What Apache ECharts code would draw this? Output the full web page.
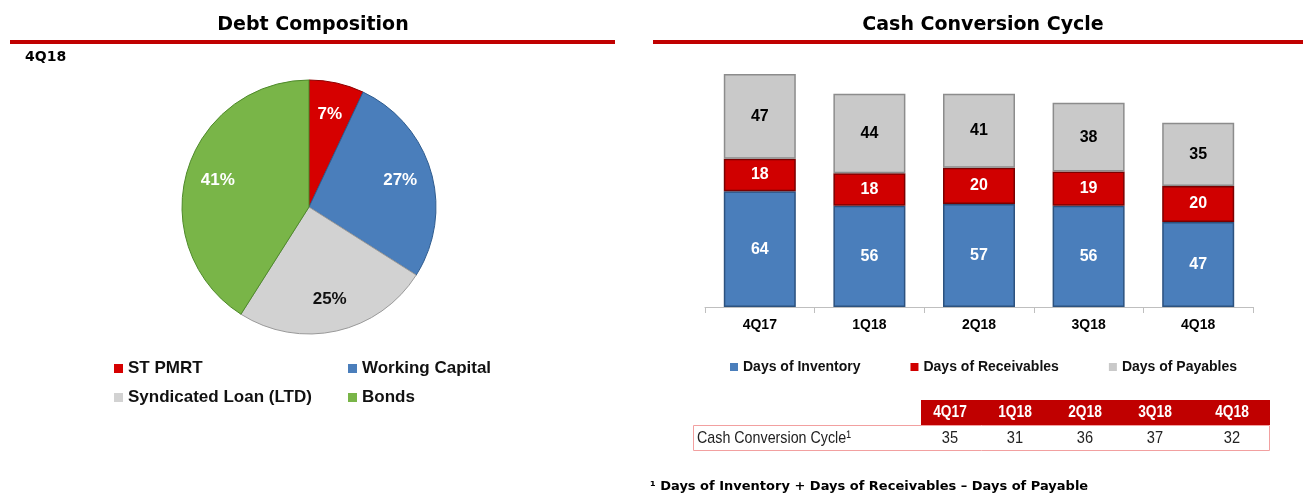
<!DOCTYPE html>
<html>
<head>
<meta charset="utf-8">
<script src="https://cdn.jsdelivr.net/npm/echarts@6/dist/echarts.min.js"></script>
<style>
html,body{margin:0;padding:0;background:#fff;}
#chart{width:1303px;height:493px;}
</style>
</head>
<body>
<div id="chart"></div>
<script>
// ---- data ----
const debtNames = ['ST PMRT', 'Working Capital', 'Syndicated Loan (LTD)', 'Bonds'];
const debtShares = [7, 27, 25, 41];
const categories = ['4Q17', '1Q18', '2Q18', '3Q18', '4Q18'];
const daysInventory = [64, 56, 57, 56, 47];
const daysReceivables = [18, 18, 20, 19, 20];
const daysPayables = [47, 44, 41, 38, 35];
const cccValues = [35, 31, 36, 37, 32];
const leftTitle = 'Debt Composition';
const rightTitle = 'Cash Conversion Cycle';
const periodLabel = '4Q18';
const tableRowLabel = 'Cash Conversion Cycle\u00B9';
const footnote = '\u00B9 Days of Inventory + Days of Receivables \u2013 Days of Payable';

// ---- styles ----
const pieColors = ['#D60000', '#4A7EBB', '#D2D2D2', '#79B548'];
const pieBorders = ['#8E0000', '#2F5C8F', '#9A9A9A', '#4E8A2A'];
const pieLabelColors = ['#fff', '#fff', '#111', '#fff'];
const barColors = { inv: '#4A7EBB', rec: '#D00000', pay: '#C9C9C9' };
const barBorders = { inv: '#2C527F', rec: '#7A0000', pay: '#8C8C8C' };
const colCenters = [950, 1015, 1085, 1155, 1232];
const pieLegendPos = [[114, 360], [348, 360], [114, 389], [348, 389]];
const narrowFont = '"Liberation Sans", Arial, sans-serif';

const chart = echarts.init(document.getElementById('chart'), null, { renderer: 'canvas' });

const pieData = debtNames.map((n, i) => ({
  name: n, value: debtShares[i],
  itemStyle: { color: pieColors[i], borderColor: pieBorders[i], borderWidth: 1 }
}));
const pieLabelData = debtNames.map((n, i) => ({
  name: n, value: debtShares[i],
  label: { color: pieLabelColors[i] }
}));

const barLabel = (color) => ({
  show: true, position: 'inside', color: color,
  fontFamily: 'Liberation Sans, Arial, sans-serif', fontWeight: 'bold', fontSize: 16
});

const graphics = [
  { type: 'text', x: 313, y: 25, style: { text: leftTitle, fill: '#000', font: 'bold 19px "DejaVu Sans", sans-serif', textAlign: 'center', textVerticalAlign: 'middle' } },
  { type: 'rect', shape: { x: 10, y: 40, width: 605, height: 4 }, style: { fill: '#C00000' } },
  { type: 'text', x: 25, y: 57, style: { text: periodLabel, fill: '#000', font: 'bold 14px "DejaVu Sans", sans-serif', textAlign: 'left', textVerticalAlign: 'middle' } },
  { type: 'text', x: 983, y: 25, style: { text: rightTitle, fill: '#000', font: 'bold 19px "DejaVu Sans", sans-serif', textAlign: 'center', textVerticalAlign: 'middle' } },
  { type: 'rect', shape: { x: 653, y: 40, width: 650, height: 4 }, style: { fill: '#C00000' } },
  // table
  { type: 'rect', shape: { x: 921, y: 400, width: 349, height: 25 }, style: { fill: '#C00000' } },
  { type: 'rect', shape: { x: 693.5, y: 425.5, width: 576, height: 25 }, style: { fill: '#fff', stroke: '#F2A0A0', lineWidth: 1 } },
  { type: 'text', x: 697, y: 438, scaleX: 0.84, style: { text: tableRowLabel, fill: '#222', font: '17px ' + narrowFont, textAlign: 'left', textVerticalAlign: 'middle' } },
  { type: 'text', x: 650, y: 487, style: { text: footnote, fill: '#000', font: 'bold 13px "DejaVu Sans", sans-serif', textAlign: 'left', textVerticalAlign: 'middle' } }
];
categories.forEach((c, i) => {
  graphics.push({ type: 'text', x: colCenters[i], y: 413, scaleX: 0.86, style: { text: c, fill: '#fff', font: 'bold 16px ' + narrowFont, textAlign: 'center', textVerticalAlign: 'middle' } });
  graphics.push({ type: 'text', x: colCenters[i], y: 438, scaleX: 0.86, style: { text: String(cccValues[i]), fill: '#222', font: '17px ' + narrowFont, textAlign: 'center', textVerticalAlign: 'middle' } });
});

const pieLegends = debtNames.map((n, i) => ({
  data: [n], left: pieLegendPos[i][0], top: pieLegendPos[i][1], padding: 0,
  itemWidth: 9, itemHeight: 9, itemGap: 5, icon: 'rect',
  itemStyle: { borderWidth: 0 },
  textStyle: { fontFamily: 'Liberation Sans, Arial, sans-serif', fontWeight: 'bold', fontSize: 17, color: '#111', padding: [0, 0, 0, 0] },
  selectedMode: false
}));

const option = {
  animation: false,
  backgroundColor: '#fff',
  graphic: { elements: graphics },
  legend: pieLegends.concat([
    {
      data: ['Days of Inventory', 'Days of Receivables', 'Days of Payables'], left: 730, top: 360, padding: 0,
      itemWidth: 8, itemHeight: 8, itemGap: 50, icon: 'rect',
      itemStyle: { borderWidth: 0 },
      textStyle: { fontFamily: 'Liberation Sans, Arial, sans-serif', fontWeight: 'bold', fontSize: 14, color: '#111' },
      selectedMode: false
    }
  ]),
  grid: { left: 705, width: 548, top: 54, height: 253, containLabel: false },
  xAxis: {
    type: 'category', data: categories,
    axisLine: { lineStyle: { color: '#BFBFBF', width: 1 } },
    axisTick: { show: true, length: 6, lineStyle: { color: '#BFBFBF' } },
    axisLabel: { color: '#000', fontFamily: 'Liberation Sans, Arial, sans-serif', fontWeight: 'bold', fontSize: 14, margin: 11 }
  },
  yAxis: { type: 'value', min: 0, max: 140, show: false, splitLine: { show: false } },
  series: [
    {
      type: 'pie', name: 'Debt', center: [309, 207], radius: 127, startAngle: 90, clockwise: true,
      label: { show: false }, labelLine: { show: false }, silent: true,
      data: pieData
    },
    {
      type: 'pie', name: 'DebtLabels', center: [309, 207], radius: 184, startAngle: 90, clockwise: true,
      itemStyle: { color: 'rgba(0,0,0,0)', borderWidth: 0 }, silent: true, z: 3,
      label: { show: true, position: 'inside', formatter: '{c}%', fontFamily: 'Liberation Sans, Arial, sans-serif', fontWeight: 'bold', fontSize: 17 },
      labelLine: { show: false },
      legendHoverLink: false,
      data: pieLabelData
    },
    {
      type: 'bar', name: 'Days of Inventory', stack: 'ccc', barWidth: 72, data: daysInventory,
      itemStyle: { color: barColors.inv, borderColor: barBorders.inv, borderWidth: 1.5 },
      label: barLabel('#fff')
    },
    {
      type: 'bar', name: 'Days of Receivables', stack: 'ccc', barWidth: 72, data: daysReceivables,
      itemStyle: { color: barColors.rec, borderColor: barBorders.rec, borderWidth: 1.5 },
      label: barLabel('#fff')
    },
    {
      type: 'bar', name: 'Days of Payables', stack: 'ccc', barWidth: 72, data: daysPayables,
      itemStyle: { color: barColors.pay, borderColor: barBorders.pay, borderWidth: 1.5 },
      label: barLabel('#000')
    }
  ]
};
chart.setOption(option);
</script>
</body>
</html>
